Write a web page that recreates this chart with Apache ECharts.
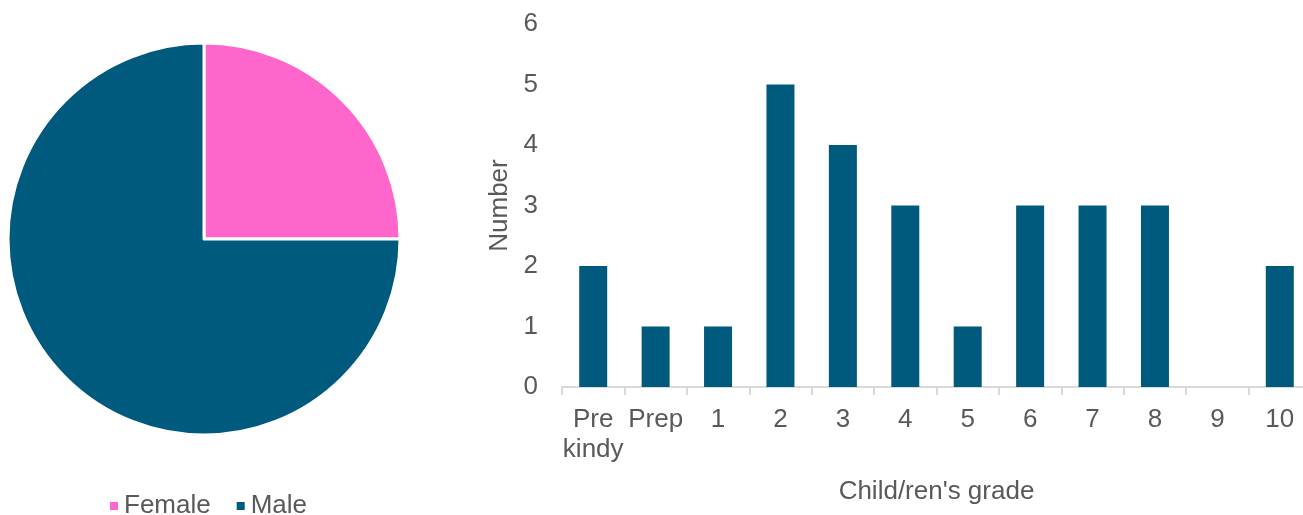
<!DOCTYPE html>
<html>
<head>
<meta charset="utf-8">
<script src="https://cdn.jsdelivr.net/npm/echarts@6/dist/echarts.min.js"></script>
<style>
  html, body { margin: 0; padding: 0; background: #fff; }
  #chart { width: 1303px; height: 515px; }
</style>
</head>
<body>
<div id="chart"></div>
<script>
// Gender split of respondents
const genderLabels = ['Female', 'Male'];
const genderCounts = [7, 21];
const genderColors = ['#FF66CC', '#005A7D'];

// Number of children by school grade
const grades = ['Pre\nkindy', 'Prep', '1', '2', '3', '4', '5', '6', '7', '8', '9', '10'];
const gradeCounts = [2, 1, 1, 5, 4, 3, 1, 3, 3, 3, 0, 2];

const textColor = '#595959';
const font = 'Liberation Sans, Arial, sans-serif';
const fontSize = 26;

const chart = echarts.init(document.getElementById('chart'), null, { renderer: 'canvas' });

chart.setOption({
  animation: false,
  textStyle: { fontFamily: font, color: textColor },
  legend: {
    data: genderLabels,
    left: 103,
    top: 488,
    icon: 'rect',
    itemWidth: 10,
    itemHeight: 10,
    itemGap: 24,
    textStyle: { fontSize: fontSize, color: textColor, fontFamily: font }
  },
  grid: { left: 562, width: 749, top: 24, height: 363, outerBoundsMode: 'none', containLabel: false },
  xAxis: {
    type: 'category',
    data: grades,
    name: "Child/ren's grade",
    nameLocation: 'middle',
    nameGap: 92,
    nameTextStyle: { fontSize: fontSize, color: textColor, fontFamily: font },
    axisLine: { lineStyle: { color: '#D9D9D9', width: 2 } },
    axisTick: { show: true, length: 8, lineStyle: { color: '#D9D9D9', width: 2 } },
    axisLabel: { fontSize: fontSize, color: textColor, fontFamily: font, margin: 18, lineHeight: 30, interval: 0 }
  },
  yAxis: {
    type: 'value',
    min: 0,
    max: 6,
    interval: 1,
    name: 'Number',
    nameLocation: 'middle',
    nameGap: 48,
    nameTextStyle: { fontSize: fontSize, color: textColor, fontFamily: font },
    splitLine: { show: false },
    axisLine: { show: false },
    axisTick: { show: false },
    axisLabel: { fontSize: fontSize, color: textColor, fontFamily: font, margin: 24 }
  },
  series: [
    {
      type: 'pie',
      center: [204, 239],
      radius: [0, 196],
      startAngle: 90,
      clockwise: true,
      label: { show: false },
      labelLine: { show: false },
      itemStyle: { borderColor: '#fff', borderWidth: 3 },
      data: genderLabels.map((name, i) => ({
        name, value: genderCounts[i], itemStyle: { color: genderColors[i] }
      }))
    },
    {
      type: 'bar',
      data: gradeCounts,
      barWidth: 28,
      itemStyle: { color: '#005A7D' }
    }
  ]
});
</script>
</body>
</html>
